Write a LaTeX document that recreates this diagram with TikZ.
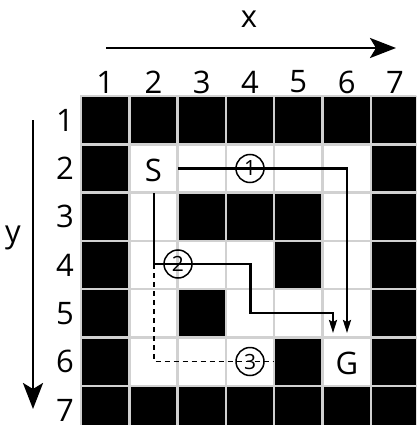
\documentclass[tikz,border=0pt]{standalone}
\usepackage{fontspec}
\setmainfont{Open Sans}
\usetikzlibrary{arrows.meta}
\definecolor{gridgray}{gray}{0.82}
\begin{document}
\begin{tikzpicture}[x=1pt,y=-1pt,
  lab/.style={font=\fontsize{31}{33}\selectfont, inner sep=0pt, anchor=center},
  cellw/.style={fill=white, draw=gridgray, line width=2.5pt},
  cellb/.style={fill=black, draw=gridgray, line width=2.5pt},
  axis/.style={line width=2.8pt, -{Stealth[length=26pt,width=20pt,inset=6pt]}},
  route/.style={line width=2.2pt},
  routearrow/.style={route, -{Stealth[length=13pt,width=8pt,inset=2pt]}},
  dashroute/.style={line width=1.3pt, dashed, dash pattern=on 5pt off 4pt},
  num/.style={circle, draw, line width=1.5pt, minimum size=28pt, inner sep=0pt,
    font=\fontsize{21}{23}\selectfont}
]
\useasboundingbox (0,0) rectangle (416,425);
\clip (0,0) rectangle (416,425);
\fill[white] (0,0) rectangle (416,425);
% grid
\def\p{48.3}
\foreach \c in {1,...,7}
  \foreach \r in {1,...,7}
    \draw[cellw] ({81+(\c-1)*\p},{96+(\r-1)*\p}) rectangle +(\p,\p);
\foreach \c/\r in {1/1,2/1,3/1,4/1,5/1,6/1,7/1,
                   1/7,2/7,3/7,4/7,5/7,6/7,7/7,
                   1/2,1/3,1/4,1/5,1/6,
                   7/2,7/3,7/4,7/5,7/6,
                   3/3,4/3,5/3,5/4,3/5,5/6}
  \draw[cellb] ({81+(\c-1)*\p},{96+(\r-1)*\p}) rectangle +(\p,\p);
% column and row labels
\foreach \i in {1,...,7} {
  \node[lab] (col\i) at ({81+(\i-0.5)*\p},82) {\i};
  \node[lab] (row\i) at (65,{96+(\i-0.5)*\p}) {\i};
}
% axes
\coordinate (xa) at (106,48);
\coordinate (xb) at (396,48);
\draw[axis] (xa) -- (xb);
\node[lab] (xl) at (249,19) {x};
\coordinate (ya) at (33,120);
\coordinate (yb) at (33,409);
\draw[axis] (ya) -- (yb);
\node[lab] (yl) at (13,238) {y};
% start / goal
\node[lab] (S) at (153.5,170) {S};
\node[lab] (G) at (347,363) {G};
% route 1
\coordinate (a0) at (178,168.5);
\coordinate (a1) at (347,168.5);
\coordinate (a2) at (347,333);
\draw[routearrow] (a0) -- (a1) -- (a2);
\node[num] (n1) at (250,168.5) {1};
% route 2
\coordinate (b0) at (154,193);
\coordinate (b1) at (154,264);
\coordinate (b2) at (250.5,264);
\coordinate (b3) at (250.5,313);
\coordinate (b4) at (333,313);
\coordinate (b5) at (333,333);
\draw[routearrow] (b0) -- (b1) -- (b2) -- (b3) -- (b4) -- (b5);
\node[num] (n2) at (178,264) {2};
% route 3
\coordinate (c1) at (154,361.5);
\coordinate (c2) at (274,361.5);
\draw[dashroute] (b1) -- (c1) -- (c2);
\node[num] (n3) at (250,361.5) {3};
\end{tikzpicture}
\end{document}
